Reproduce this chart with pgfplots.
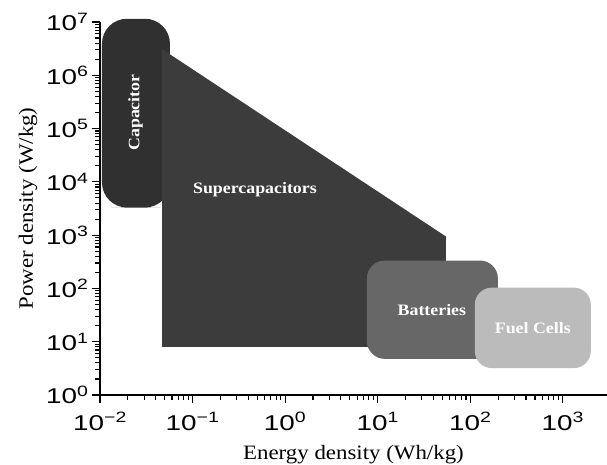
\documentclass[border=0pt]{standalone}
\usepackage{fontspec}
\setmainfont{Liberation Serif}[FakeStretch=1.12]
\newfontfamily\arialf{Liberation Sans}[FakeStretch=1.3]
\usepackage{pgfplots}
\pgfplotsset{compat=1.18}
\definecolor{capc}{HTML}{303030}
\definecolor{supc}{HTML}{3C3C3C}
\definecolor{batc}{HTML}{676767}
\definecolor{fuelc}{HTML}{BBBBBB}
\begin{document}
\begin{tikzpicture}
\begin{axis}[
  at={(0,0)}, anchor=south west,
  scale only axis, width=507bp, height=373bp,
  xmode=log, ymode=log,
  xmin=0.01, xmax=3000, ymin=1, ymax=1e7,
  clip=false,
  axis x line=bottom, axis y line=left,
  axis line style={-, line width=1.3bp},
  tick align=outside,
  major tick length=8bp, minor tick length=5bp,
  every tick/.style={black, line width=1.1bp},
  xtick={0.01,0.1,1,10,100,1000},
  xticklabels={10\textsuperscript{−2},10\textsuperscript{−1},10\textsuperscript{0},10\textsuperscript{1},10\textsuperscript{2},10\textsuperscript{3}},
  ytick={1,10,100,1000,10000,100000,1000000,10000000},
  yticklabels={10\textsuperscript{0},10\textsuperscript{1},10\textsuperscript{2},10\textsuperscript{3},10\textsuperscript{4},10\textsuperscript{5},10\textsuperscript{6},10\textsuperscript{7}},
  tick label style={font=\arialf\fontsize{21.5}{23}\selectfont},
  xticklabel style={yshift=-6bp},
  label style={font=\fontsize{20.5}{23}\selectfont},
  xlabel={Energy density (Wh/kg)},
  ylabel={Power density (W/kg)},
  xlabel style={yshift=-8bp},
  ylabel style={yshift=2bp},
]
% Capacitor
\addplot[fill=capc, draw=none, rounded corners=25bp] coordinates {
 (0.0245,3300) (0.057,3300) (0.057,1.15e7) (0.0105,1.15e7) (0.0105,3300)} -- cycle;
% Supercapacitors
\addplot[fill=supc, draw=none] coordinates {
 (0.0468,3.1e6) (54.5,945) (54.5,8.0) (0.0468,8.0)} -- cycle;
% Batteries
\addplot[fill=batc, draw=none, rounded corners=18bp] coordinates {
 (38,4.76) (199,4.76) (199,334) (7.64,334) (7.64,4.76)} -- cycle;
% Fuel cells
\addplot[fill=fuelc, draw=none, rounded corners=17bp] coordinates {
 (470,3.2) (2005,3.2) (2005,103.6) (112,103.6) (112,3.2)} -- cycle;
\node[white, font=\bfseries\fontsize{16}{18}\selectfont, rotate=90] at (axis cs:0.0242,2.0e5) {Capacitor};
\node[white, font=\bfseries\fontsize{16}{18}\selectfont] at (axis cs:0.472,7100) {Supercapacitors};
\node[white, font=\bfseries\fontsize{16}{18}\selectfont] at (axis cs:38.5,40) {Batteries};
\node[white, font=\bfseries\fontsize{16}{18}\selectfont] at (axis cs:474,18) {Fuel Cells};
\end{axis}
\pgfresetboundingbox
\path (-100bp,-70bp) rectangle (507bp,395bp);
\end{tikzpicture}
\end{document}
